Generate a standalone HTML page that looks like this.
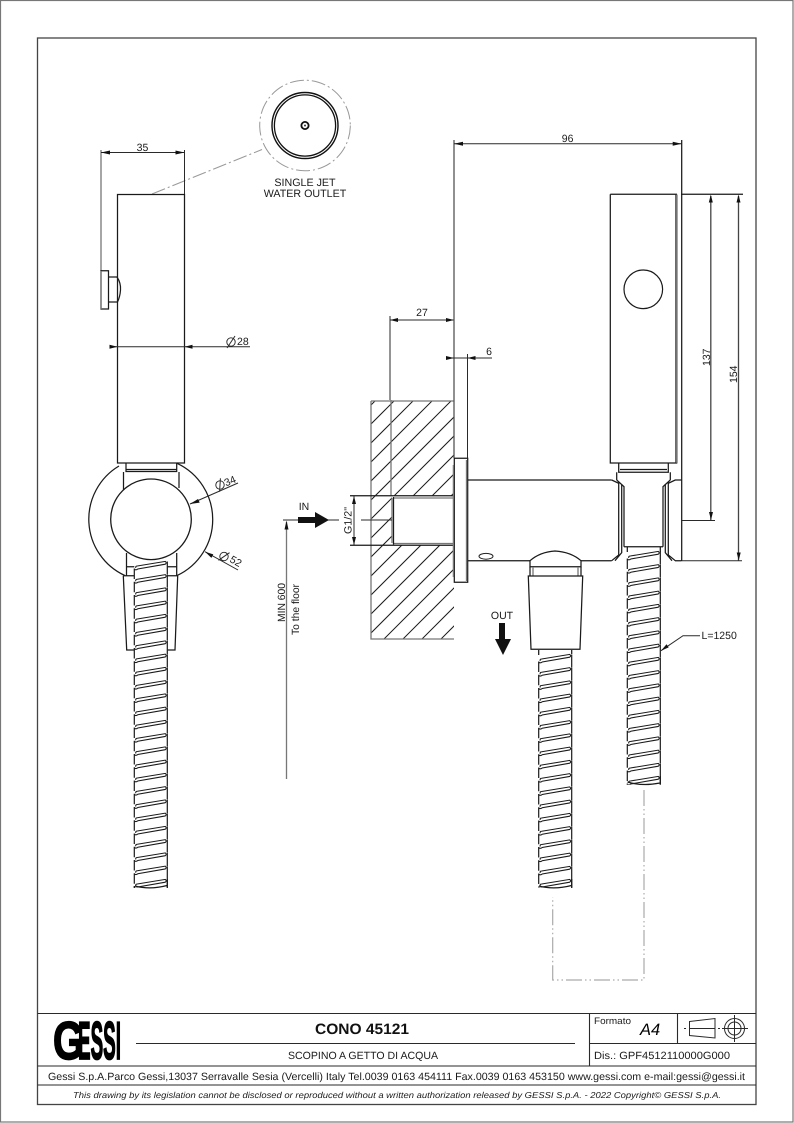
<!DOCTYPE html>
<html><head><meta charset="utf-8"><title>CONO 45121</title>
<style>
html,body{margin:0;padding:0;background:#fff}
svg{display:block}
text{font-family:"Liberation Sans",sans-serif;fill:#1a1a1a;text-rendering:geometricPrecision}
.l{fill:none;stroke:#1a1a1a;stroke-width:1.25}
.g{fill:none;stroke:#777;stroke-width:1.3}
.d{fill:none;stroke:#2a2a2a;stroke-width:1}
.dd{fill:none;stroke:#aaa;stroke-width:1.2;stroke-dasharray:16 3 1.5 3 1.5 3}
.a{fill:#111;stroke:none}
</style></head><body>
<svg width="794" height="1123" viewBox="0 0 794 1123" xmlns="http://www.w3.org/2000/svg">
<defs>
<g id="c">
<path d="M0,4.4 Q2,5.4 3.5,4 L31,-0.8 Q32.8,-2 31,-3.6 L3,1 Q1,1 1.5,3" fill="#fff" stroke="#1a1a1a" stroke-width="1.05"/>
<path d="M0,3.5 L0,14 M33,-3.5 L33,9.5" fill="none" stroke="#1a1a1a" stroke-width="1.2"/>
</g>
<clipPath id="w"><rect x="371" y="401" width="83" height="238"/></clipPath>
</defs>
<rect width="794" height="1123" fill="#fff"/>
<rect x=".5" y=".5" width="792.5" height="1121.5" fill="none" stroke="#777" stroke-width="1.2"/>
<rect x="37.5" y="38" width="718.5" height="1066.5" fill="none" stroke="#444" stroke-width="1.3"/>

<!-- title block -->
<g fill="none" stroke="#2a2a2a" stroke-width="1.1">
<path d="M37.5,1013.5H756M37.5,1066H756M37.5,1085H756M589.5,1013.5V1066M677.5,1013.5V1043M589.5,1043.5H756M136,1043.5H575"/>
</g>
<text x="53" y="1059" font-size="53.5" font-weight="bold" textLength="31" lengthAdjust="spacingAndGlyphs" style="fill:#000;stroke:#000;stroke-width:1.6">G</text>
<text x="78" y="1059" font-size="53.5" font-weight="bold" textLength="43" lengthAdjust="spacingAndGlyphs" style="fill:#000;stroke:#000;stroke-width:1.7">ESSI</text>
<text x="315" y="1034" font-size="15" font-weight="bold" textLength="94" lengthAdjust="spacingAndGlyphs" style="fill:#111">CONO 45121</text>
<text x="288" y="1059" font-size="10.5" textLength="150" lengthAdjust="spacingAndGlyphs">SCOPINO A GETTO DI ACQUA</text>
<text x="48" y="1080" font-size="10.5" textLength="697" lengthAdjust="spacingAndGlyphs">Gessi S.p.A.Parco Gessi,13037 Serravalle Sesia (Vercelli) Italy Tel.0039 0163 454111 Fax.0039 0163 453150 www.gessi.com e-mail:gessi@gessi.it</text>
<text x="73" y="1098" font-size="8.6" font-style="italic" textLength="648" lengthAdjust="spacingAndGlyphs">This drawing by its legislation cannot be disclosed or reproduced without a written authorization released by GESSI S.p.A. - 2022 Copyright© GESSI S.p.A.</text>
<text x="594" y="1024" font-size="9.5" textLength="37" lengthAdjust="spacingAndGlyphs">Formato</text>
<text x="640" y="1035" font-size="16.5" font-style="italic" style="fill:#000">A4</text>
<text x="594" y="1059" font-size="10.5" textLength="136" lengthAdjust="spacingAndGlyphs">Dis.: GPF4512110000G000</text>
<g class="d">
<path d="M689.5,1021.5 L715,1018.5 V1038 L689.5,1035.5Z M684,1028.5H686M689.5,1028.5H715M718,1028.5H720"/>
<circle cx="734.5" cy="1028.5" r="10"/><circle cx="734.5" cy="1028.5" r="6.5"/><path d="M722,1028.5H748M734.5,1015V1042"/>
</g>

<!-- left view: detail -->
<circle cx="305" cy="125.5" r="45.3" fill="none" stroke="#999" stroke-width="1" stroke-dasharray="14 3 2 3"/>
<circle cx="305" cy="125.5" r="33" fill="none" stroke="#111" stroke-width="1.4"/>
<circle cx="305" cy="125.5" r="30.6" fill="none" stroke="#111" stroke-width="1.3"/>
<circle cx="305" cy="125.5" r="3.6" fill="none" stroke="#111" stroke-width="1.8"/>
<circle cx="305" cy="125.5" r="1" fill="#333"/>
<path d="M152,194 L262,149.5" fill="none" stroke="#999" stroke-width="1" stroke-dasharray="14 3 2 3"/>
<text x="305" y="186" font-size="10.7" text-anchor="middle">SINGLE JET</text>
<text x="305" y="197" font-size="10.7" text-anchor="middle">WATER OUTLET</text>

<!-- left view: handset -->
<path class="l" d="M117.5,463 V194.5 H184.5 V463 H117.5Z"/>
<path class="g" d="M101,150 V271"/><path class="d" d="M184.5,150 V194"/>
<path class="d" d="M101,152.5 H184.5"/>
<path class="a" d="M101,152.5 l9,-2 v4Z M184.5,152.5 l-9,-2 v4Z"/>
<text x="142.5" y="151" font-size="10.5" text-anchor="middle">35</text>
<path class="l" d="M101,270.7 H108.5 V309 H101Z"/>
<path class="g" d="M101,271 V309"/>
<path class="l" d="M108.5,277 H117 Q121,283 120.5,290 Q120,297 117.5,302 H108.5"/>
<path class="d" d="M110,346.7 H250"/>
<path class="a" d="M117.5,346.7 l-8,-2 v4Z M184.5,346.7 l8,-2 v4Z"/>
<text x="237" y="345" font-size="10.5">28</text>
<circle cx="231" cy="342" r="4.2" fill="none" stroke="#222" stroke-width=".9"/><path class="d" d="M227,348 L235,336"/>

<!-- left view: holder -->
<path class="l" d="M126,463 V471.5 H176.7 V463 M126,469.5 H176.7"/>
<path class="l" d="M123.5,472 V490 M179,472 V488"/>
<path class="l" d="M119,466 A62,62 0 0 0 125,575.6 M177,463.3 A62,62 0 0 1 177,575.6"/>
<!-- hose left -->
<g transform="translate(134.3,0)">
<use href="#c" y="565"/><use href="#c" y="578.25"/><use href="#c" y="591.5"/><use href="#c" y="604.75"/><use href="#c" y="618"/><use href="#c" y="631.25"/><use href="#c" y="644.5"/><use href="#c" y="657.75"/><use href="#c" y="671"/><use href="#c" y="684.25"/><use href="#c" y="697.5"/><use href="#c" y="710.75"/><use href="#c" y="724"/><use href="#c" y="737.25"/><use href="#c" y="750.5"/><use href="#c" y="763.75"/><use href="#c" y="777"/><use href="#c" y="790.25"/><use href="#c" y="803.5"/><use href="#c" y="816.75"/><use href="#c" y="830"/><use href="#c" y="843.25"/><use href="#c" y="856.5"/><use href="#c" y="869.75"/><use href="#c" y="883"/>
</g>
<path fill="#fff" stroke="none" d="M133,887.5 H169 V897 H133Z"/>
<path class="l" d="M134.3,886 V888 M167.3,879 V888 M135,886 Q150,890 167,885.5"/>
<path class="l" d="M126.5,553 V576 M176.7,553 V576 M126.5,566.7 H134.3 M167.7,566.7 H176.7 M123.3,575.7 H134.3 M167.7,575.7 H177.7"/>
<path class="l" d="M123.3,575.7 L126.7,650 H134.3 M177.7,575.7 L175,650 H167.7"/>
<circle cx="151" cy="519.3" r="40.3" fill="#fff" stroke="#1a1a1a" stroke-width="1.3"/>
<path class="d" d="M190,504 L238,483"/><path class="a" d="M190,504 l8,-5 l1.7,3.6Z"/>
<text transform="translate(226,486.5) rotate(-23)" font-size="10.5">34</text>
<g transform="translate(220,485) rotate(-23)"><circle r="4.2" fill="none" stroke="#222" stroke-width=".9"/><path class="d" d="M-3,6 L3,-6"/></g>
<path class="d" d="M205,551.7 L238,570"/><path class="a" d="M205,551.7 l8.3,2.7 l-1.9,3.5Z"/>
<text transform="translate(229,561.5) rotate(29)" font-size="10.5">52</text>
<g transform="translate(224,556.5) rotate(29)"><circle r="4.2" fill="none" stroke="#222" stroke-width=".9"/><path class="d" d="M-3,6 L3,-6"/></g>

<!-- min 600 / IN -->
<path class="d" d="M283,520 H339"/>
<path class="g" d="M286.5,522 V779"/>
<path class="a" d="M286.5,520.5 l-2,9 h4Z"/>
<path class="a" d="M298,517 H315 V512 L329,520 L315,528 V523 H298Z"/>
<text x="304" y="510" font-size="10.5" text-anchor="middle">IN</text>
<text transform="translate(285,622) rotate(-90)" font-size="10.5" textLength="39" lengthAdjust="spacingAndGlyphs">MIN 600</text>
<text transform="translate(299,635) rotate(-90)" font-size="10.5" textLength="51" lengthAdjust="spacingAndGlyphs">To the floor</text>

<!-- wall -->
<g clip-path="url(#w)" stroke="#1a1a1a" stroke-width="1">
<path d="M340,417 l300,-300M340,436 l300,-300M340,455 l300,-300M340,474 l300,-300M340,493 l300,-300M340,512 l300,-300M340,531 l300,-300M340,550 l300,-300M340,569 l300,-300M340,588 l300,-300M340,607 l300,-300M340,626 l300,-300M340,645 l300,-300M340,664 l300,-300M340,683 l300,-300M340,702 l300,-300M340,721 l300,-300M340,740 l300,-300"/>
</g>
<rect x="392" y="496" width="62" height="49.5" fill="#fff"/>
<path class="g" d="M371,401 H454 M371,401 V639 H454 M391,400 V496"/>
<path class="d" d="M390,316 V400"/>
<!-- G1/2 -->
<path class="l" d="M350,495.7 H454 M350,545.3 H454"/>
<path class="g" d="M394,498 H454 M394,543.5 H454"/>
<path class="l" d="M393.5,497 V544.5"/>
<path class="g" d="M392,498 V543"/>
<path class="d" d="M354,496 V545 M361,520 H392"/>
<path class="a" d="M354,496 l-2,8 h4Z M354,545 l-2,-8 h4Z"/>
<text transform="translate(351.5,534) rotate(-90)" font-size="10.5" textLength="27" lengthAdjust="spacingAndGlyphs">G1/2"</text>

<!-- dims 27, 6, 96 -->
<path class="d" d="M390,320 H454"/><path class="a" d="M390,320 l8,-2 v4Z M454,320 l-8,-2 v4Z"/>
<text x="422" y="316" font-size="10.5" text-anchor="middle">27</text>
<path class="g" d="M454,140 V458" style="stroke:#555"/>
<path class="d" d="M446,358 H492 M467.5,354 V458"/>
<path class="a" d="M454,358 l-8,-2 v4Z M467.5,358 l8,-2 v4Z"/>
<text x="489" y="355" font-size="10.5" text-anchor="middle">6</text>
<path class="d" d="M454,143.7 H681.7"/>
<path class="a" d="M454,143.7 l9,-2 v4Z M681.7,143.7 l-9,-2 v4Z"/>
<text x="567.6" y="142" font-size="10.5" text-anchor="middle">96</text>

<!-- flange + body -->
<path class="l" d="M454.3,458.3 H467.7 V582.3 H454.3Z"/>
<path class="g" d="M453.4,465 V577 M466.5,460 V581"/>
<path class="l" d="M467.7,480 H611.7 M467.7,560.7 H530 M581,560.7 H611.7"/>
<ellipse cx="486" cy="556.3" rx="7" ry="2.9" fill="#fff" stroke="#222" stroke-width="1"/>

<!-- right handset -->
<path class="l" d="M610.3,194.3 H677 M610.3,194.3 V463 H677.3"/>
<path class="g" d="M677,194.5 V463"/><path class="d" d="M675.8,194.5 V463"/>
<path class="l" d="M681.7,140 V561 M681,194.3 H743"/>
<circle cx="643.3" cy="289.3" r="19.3" fill="none" stroke="#1a1a1a" stroke-width="1.2"/>
<path class="g" d="M710.8,196 V520 M738.5,196 V561" style="stroke:#444"/>
<path class="a" d="M710.8,194.5 l-2,8 h4Z M738.5,194.5 l-2,8 h4Z M711,520 l-2,-8 h4Z M738.7,560.5 l-2,-8 h4Z"/>
<path class="d" d="M682,520.5 H715 M682,560.7 H742"/>
<text transform="translate(710,366) rotate(-90)" font-size="10.5">137</text>
<text transform="translate(737,383) rotate(-90)" font-size="10.5">154</text>

<!-- holder front -->
<path class="l" d="M618.7,463 V472.3 H668.3 V463 M620,469.5 H667 M616.7,472.3 V480 M670.3,472.3 V480"/>
<path class="l" d="M611.7,480 L618.7,483.3 V555 L611.7,560.7 M616.7,480 L624,486.7 V546.7 M621.7,484 V552.7 L615,560.7"/>
<path class="l" d="M675.3,480 L668.3,483.3 V555 L675.3,560.7 M670.3,480 L663,486.7 V546.7 M665.3,484 V552.7 L672,560.7 M675,480 H681.7 M675,560.7 H681.7"/>
<path class="l" d="M624,546.7 H663"/>
<path class="l" d="M627.3,547 V552 M660.3,547 V552"/>

<!-- right hose -->
<g transform="translate(627.3,0)">
<use href="#c" y="555"/><use href="#c" y="568.25"/><use href="#c" y="581.5"/><use href="#c" y="594.75"/><use href="#c" y="608"/><use href="#c" y="621.25"/><use href="#c" y="634.5"/><use href="#c" y="647.75"/><use href="#c" y="661"/><use href="#c" y="674.25"/><use href="#c" y="687.5"/><use href="#c" y="700.75"/><use href="#c" y="714"/><use href="#c" y="727.25"/><use href="#c" y="740.5"/><use href="#c" y="753.75"/><use href="#c" y="767"/><use href="#c" y="780"/>
</g>
<path fill="#fff" stroke="none" d="M626,784.7 H662 V794 H626Z"/>
<path class="l" d="M660.3,776 V784.5 M627.5,782 Q642,786.5 660,783"/>
<path class="dd" d="M644,790 V980 H552.7 V896"/>
<!-- L=1250 -->
<path class="d" d="M700,635.7 H683 L661,650.7"/><path class="a" d="M661,650.7 l5.5,-6.5 l2.2,3.2Z"/>
<text x="701.5" y="639" font-size="10.5">L=1250</text>

<!-- OUT piece -->
<text x="502" y="619" font-size="10.5" text-anchor="middle">OUT</text>
<path class="a" d="M499,623 H505 V639 H511 L503,655 L495,639 H499Z"/>
<path class="l" d="M530,566.7 V560.7 Q540,552 555,551 Q571,552 581,560.7 V566.7 Z"/>
<path class="l" d="M530,566.7 V576 M581,566.7 V576"/>
<path class="g" d="M533,567 V576 M578,567 V576"/>
<path class="l" d="M528.3,576 H582.7 L580,649.3 H531Z"/>
<g transform="translate(538.7,0)">
<use href="#c" y="658"/><use href="#c" y="671.25"/><use href="#c" y="684.5"/><use href="#c" y="697.75"/><use href="#c" y="711"/><use href="#c" y="724.25"/><use href="#c" y="737.5"/><use href="#c" y="750.75"/><use href="#c" y="764"/><use href="#c" y="777.25"/><use href="#c" y="790.5"/><use href="#c" y="803.75"/><use href="#c" y="817"/><use href="#c" y="830.25"/><use href="#c" y="843.5"/><use href="#c" y="856.75"/><use href="#c" y="870"/><use href="#c" y="883"/>
</g>
<path fill="#fff" stroke="none" d="M537,887.5 H574 V897 H537Z"/>
<path class="l" d="M538.7,650 V655 M571.7,650 V654"/>
<path class="l" d="M571.7,879 V888 M539,886 Q554,890 571.5,885.5"/>
</svg>
</body></html>
